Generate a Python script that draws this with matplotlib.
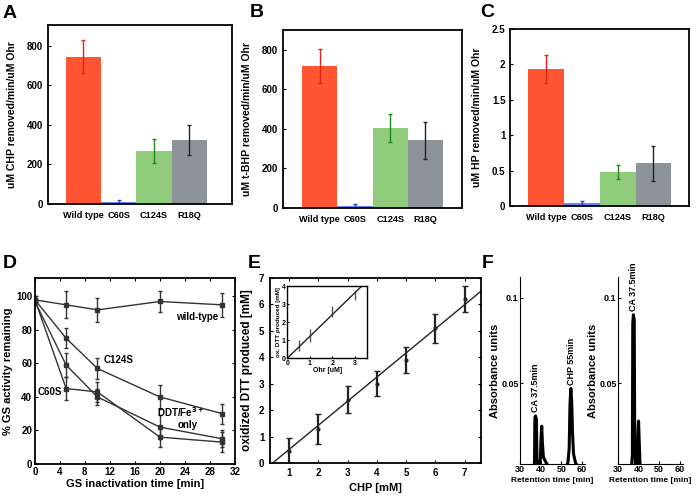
import numpy as np
import matplotlib
matplotlib.use("Agg")
import matplotlib.pyplot as plt

plt.rcParams['font.family'] = ['Liberation Sans', 'DejaVu Sans']
plt.rcParams['font.weight'] = 'bold'
plt.rcParams['axes.labelweight'] = 'bold'

# ---- data ----
strains = ["Wild type", "C60S", "C124S", "R18Q"]
bar_colors = ["#ff5533", "#6685ee", "#90cc7c", "#8c9499"]
err_colors = ["#e02418", "#2244dd", "#1e8a1e", "#222222"]

chp_rate = [745, 12, 268, 322]
chp_err = [82, 8, 60, 76]
tbhp_rate = [718, 10, 403, 342]
tbhp_err = [85, 12, 70, 92]
hp_rate = [1.94, 0.04, 0.48, 0.60]
hp_err = [0.20, 0.025, 0.10, 0.25]

gs_time = [0, 5, 10, 20, 30]
gs_wt = [98, 95, 92, 97, 95]
gs_wt_err = [2, 8, 7, 6, 7]
gs_c124s = [98, 75, 57, 40, 30]
gs_c124s_err = [2, 6, 6, 7, 6]
gs_c60s = [98, 45, 43, 16, 13]
gs_c60s_err = [2, 7, 6, 6, 6]
gs_ddt = [97, 59, 40, 22, 15]
gs_ddt_err = [2, 7, 5, 7, 5]

chp_mm = [1, 2, 3, 4, 5, 6, 7]
dtt_ox = [0.45, 1.3, 2.4, 3.0, 3.9, 5.1, 6.2]
dtt_err = [0.5, 0.57, 0.5, 0.48, 0.48, 0.55, 0.5]
fit_x = [0.45, 7.55]
fit_y = [0.0, 6.5]

ohr_um = [0.5, 1, 2, 3]
ohr_dtt = [0.7, 1.25, 2.6, 3.5]
ohr_err = [0.32, 0.35, 0.3, 0.25]
ohr_fit_x = [0, 3.3]
ohr_fit_y = [0, 4.0]

# chromatograms (retention time, absorbance)
rt_left = [30, 36.5, 37.0, 37.2, 37.5, 37.9, 38.2, 38.6, 39.2, 39.8, 40.2, 40.5, 40.8,
           41.3, 42.5, 44, 46, 52, 53.2, 53.8, 54.2, 54.6, 55.0, 55.4, 55.9, 56.8, 58, 61]
abs_left = [0, 0, 0.004, 0.030, 0.031, 0.029, 0.006, 0.002, 0.002, 0.004, 0.019, 0.025, 0.016,
            0.007, 0.004, 0.001, 0, 0, 0.004, 0.012, 0.038, 0.047, 0.040, 0.022, 0.009, 0.004, 0.001, 0]
rt_right = [30, 36.5, 37.0, 37.2, 37.5, 37.9, 38.1, 38.5, 39.2, 39.7, 40.0, 40.3, 40.7, 41.4, 61]
abs_right = [0, 0, 0.008, 0.085, 0.090, 0.087, 0.030, 0.003, 0.002, 0.016, 0.028, 0.017, 0.003, 0, 0]

fig = plt.figure(figsize=(6.99, 5.01), dpi=100)


def bar_panel(rect, vals, errs, ylabel, ylim, yticks, yticklabels, xlim):
    ax = fig.add_axes(rect)
    x = np.arange(len(strains))
    ax.bar(x, vals, width=1.0, color=bar_colors)
    for i in range(len(x)):
        ax.errorbar(x[i], vals[i], yerr=errs[i], color=err_colors[i], capsize=1.5,
                    elinewidth=1, capthick=1)
    ax.set_xlim(*xlim)
    ax.set_ylim(*ylim)
    ax.set_xticks(x)
    ax.set_xticklabels(strains, fontsize=6.6, fontweight='bold')
    ax.set_yticks(yticks)
    ax.set_yticklabels(yticklabels, fontsize=7, fontweight='bold')
    ax.tick_params(axis='x', length=0, pad=5)
    ax.tick_params(axis='y', direction='in', length=2)
    ax.set_ylabel(ylabel, fontsize=7.5, labelpad=7)
    for s in ax.spines.values():
        s.set_linewidth(1.3)
    return ax


bar_panel([0.0687, 0.593, 0.263, 0.357], chp_rate, chp_err, "uM CHP removed/min/uM Ohr",
          (0, 905), [0, 200, 400, 600, 800], ["0", "200", "400", "600", "800"], (-1.0, 4.2))
bar_panel([0.405, 0.585, 0.256, 0.355], tbhp_rate, tbhp_err, "uM t-BHP removed/min/uM Ohr",
          (0, 900), [0, 200, 400, 600, 800], ["0", "200", "400", "600", "800"], (-1.04, 4.04))
bar_panel([0.730, 0.589, 0.256, 0.353], hp_rate, hp_err, "uM HP removed/min/uM Ohr",
          (0, 2.5), [0, 0.5, 1, 1.5, 2, 2.5], ["0", "0.5", "1", "1.5", "2", "2.5"], (-1.0, 4.0))

# ---- D ----
axd = fig.add_axes([0.050, 0.074, 0.286, 0.371])
for ys, es in [(gs_wt, gs_wt_err), (gs_c124s, gs_c124s_err),
               (gs_c60s, gs_c60s_err), (gs_ddt, gs_ddt_err)]:
    axd.errorbar(gs_time, ys, yerr=es, color='#333333', marker='s', markersize=2.5,
                 lw=1, capsize=1.5, elinewidth=1)
axd.set_xlim(0, 32)
axd.set_ylim(0, 111)
axd.set_xticks(range(0, 33, 4))
axd.set_yticks(range(0, 101, 20))
axd.tick_params(direction='in', length=2, labelsize=7, top=True, right=True, pad=2)
axd.set_xlabel("GS inactivation time [min]", fontsize=8, labelpad=2)
axd.set_ylabel("% GS activity remaining", fontsize=8, labelpad=2)
axd.text(29.3, 88, "wild-type", fontsize=7, ha='right', va='center')
axd.text(11.0, 62, "C124S", fontsize=7, ha='left', va='center')
axd.text(4.4, 43, "C60S", fontsize=7, ha='right', va='center')
axd.text(19.5, 31, "DDT/Fe$^{3+}$", fontsize=7, ha='left', va='center')
axd.text(24.5, 23.5, "only", fontsize=7, ha='center', va='center')
for s in axd.spines.values():
    s.set_linewidth(1.3)

# ---- E ----
axe = fig.add_axes([0.386, 0.076, 0.302, 0.369])
axe.errorbar(chp_mm, dtt_ox, yerr=dtt_err, fmt='o', color='#222222', markersize=2,
             capsize=2, elinewidth=1.6, capthick=1)
axe.plot(fit_x, fit_y, color='#222222', lw=1)
axe.set_xlim(0.35, 7.55)
axe.set_ylim(0, 7)
axe.set_xticks(chp_mm)
axe.set_yticks(range(0, 8))
axe.tick_params(direction='in', length=2, labelsize=7, top=True, right=True, pad=4)
axe.set_xlabel("CHP [mM]", fontsize=8, labelpad=3)
axe.set_ylabel("oxidized DTT produced [mM]", fontsize=8.5, labelpad=4)
for s in axe.spines.values():
    s.set_linewidth(1.3)

axi = fig.add_axes([0.411, 0.285, 0.114, 0.144])
axi.errorbar(ohr_um, ohr_dtt, yerr=ohr_err, fmt='none', ecolor='#555555', elinewidth=1)
axi.plot(ohr_fit_x, ohr_fit_y, color='#222222', lw=1)
axi.set_xlim(0, 3.53)
axi.set_ylim(0, 4)
axi.set_xticks([0, 1, 2, 3])
axi.set_yticks([0, 1, 2, 3, 4])
axi.tick_params(direction='in', length=1.5, labelsize=5, pad=1)
axi.set_xlabel("Ohr [uM]", fontsize=5, labelpad=0)
axi.set_ylabel("ox. DTT produced [mM]", fontsize=4.5, labelpad=1)
for s in axi.spines.values():
    s.set_linewidth(1)

# ---- F ----
def chrom(rect, rt, ab):
    ax = fig.add_axes(rect)
    ax.plot(rt, ab, color='black', lw=2.2)
    ax.set_xlim(30, 61.5)
    ax.set_ylim(0.003, 0.112)
    ax.set_xticks([30, 40, 50, 60])
    ax.set_yticks([0.05, 0.1])
    ax.set_yticklabels(["0.05", "0.1"])
    for s in ['top', 'right']:
        ax.spines[s].set_visible(False)
    ax.tick_params(direction='in', length=2, labelsize=6.5, pad=1)
    ax.set_xlabel("Retention time [min]", fontsize=6, labelpad=2)
    ax.set_ylabel("Absorbance units", fontsize=8, labelpad=1)
    return ax


axf1 = chrom([0.744, 0.074, 0.093, 0.373], rt_left, abs_left)
axf1.text(37.6, 0.033, "CA 37.5min", rotation=90, ha='center', va='bottom', fontsize=6.5)
axf1.text(54.7, 0.049, "CHP 55min", rotation=90, ha='center', va='bottom', fontsize=6.5)
axf2 = chrom([0.884, 0.074, 0.093, 0.373], rt_right, abs_right)
axf2.text(37.6, 0.092, "CA 37.5min", rotation=90, ha='center', va='bottom', fontsize=6.5,
          clip_on=False)

# panel letters
for lx, ly, lt in [(3, 18, "A"), (250, 17, "B"), (480, 17, "C"),
                   (3, 268, "D"), (248, 268, "E"), (482, 268, "F")]:
    fig.text(lx / 699, 1 - ly / 501, lt, fontsize=14, fontweight='bold', ha='left', va='baseline')

fig.savefig("out.png", dpi=100)
